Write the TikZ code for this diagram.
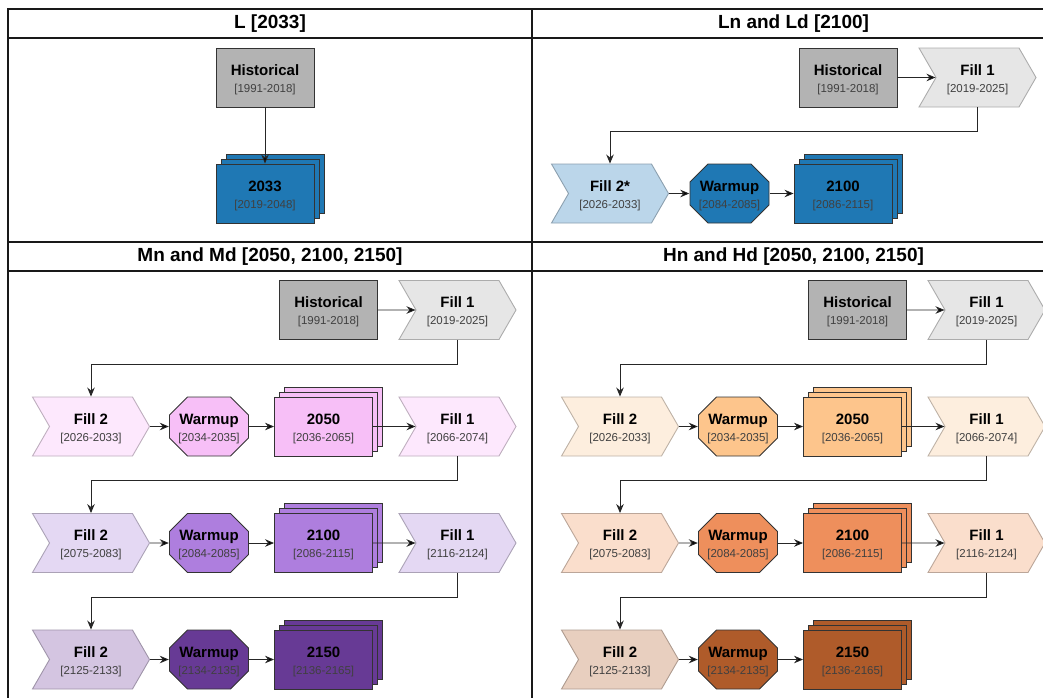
\documentclass[tikz,border=0pt]{standalone}
\usepackage{fontspec}
\setmainfont{Liberation Sans}
\usepackage{tikz}
\usetikzlibrary{arrows.meta,shapes.symbols,shadows}

\definecolor{histgray}{RGB}{179,179,179}
\definecolor{fillgray}{RGB}{230,230,230}
\definecolor{steelblue}{RGB}{31,120,180}
\definecolor{skyfill}{RGB}{187,214,234}
\definecolor{pinkfill}{RGB}{253,232,253}
\definecolor{pinkdark}{RGB}{247,191,247}
\definecolor{lilacfill}{RGB}{228,216,243}
\definecolor{lilacdark}{RGB}{174,126,222}
\definecolor{plumfill}{RGB}{212,197,225}
\definecolor{plumdark}{RGB}{103,58,149}
\definecolor{creamfill}{RGB}{253,238,222}
\definecolor{apricot}{RGB}{253,197,140}
\definecolor{peachfill}{RGB}{250,222,204}
\definecolor{coral}{RGB}{238,143,92}
\definecolor{sandfill}{RGB}{232,207,191}
\definecolor{rust}{RGB}{175,91,42}
\colorlet{subgray}{black!75}

\newcommand{\subsize}{\fontsize{11.5pt}{13pt}\selectfont}
\newcommand{\stg}[2]{\rule{0pt}{15pt}\textbf{#1}\\[1pt]{\subsize\color{subgray}[#2]}}

\begin{document}
\begin{tikzpicture}[x=1pt,y=-1pt,>={Stealth[length=9pt,width=7.5pt]},
                    hist/.style={rectangle,draw=black!80,line width=0.9pt,fill=histgray,
                                 minimum width=98pt,minimum height=59pt,inner sep=1pt,align=center},
                    chev/.style={signal,signal from=west,signal to=east,signal pointer angle=120,
                                 draw=#1!75!black,line width=0.9pt,fill=#1,
                                 minimum width=117pt,minimum height=59pt,inner sep=1pt,align=center},
                    warm/.style={rectangle,minimum width=80pt,minimum height=60pt,inner sep=0pt,align=center,
                                 path picture={\draw[draw=black!80,line width=0.9pt,fill=#1]
                                    ([shift={(18.5pt,-0.5pt)}]path picture bounding box.north west)
                                 -- ([shift={(-18.5pt,-0.5pt)}]path picture bounding box.north east)
                                 -- ([shift={(-0.5pt,-18.5pt)}]path picture bounding box.north east)
                                 -- ([shift={(-0.5pt,18.5pt)}]path picture bounding box.south east)
                                 -- ([shift={(-18.5pt,0.5pt)}]path picture bounding box.south east)
                                 -- ([shift={(18.5pt,0.5pt)}]path picture bounding box.south west)
                                 -- ([shift={(0.5pt,18.5pt)}]path picture bounding box.south west)
                                 -- ([shift={(0.5pt,-18.5pt)}]path picture bounding box.north west) -- cycle;}},
                    stack/.style={rectangle,draw=black!80,line width=0.9pt,fill=#1,
                                  minimum width=98pt,minimum height=59pt,inner sep=1pt,align=center,
                                  copy shadow={shadow xshift=10pt,shadow yshift=10pt,fill=#1,draw=black!80,line width=0.9pt},
                                  copy shadow={shadow xshift=5pt,shadow yshift=5pt,fill=#1,draw=black!80,line width=0.9pt}},
                    ttl/.style={font=\fontsize{19pt}{22pt}\selectfont\bfseries},
                    frame/.style={line width=1.8pt,draw=black!90},
                    link/.style={->,draw=black!85,line width=0.9pt}]
\tikzset{every node/.style={font=\fontsize{15pt}{16pt}\selectfont}}

  \path[use as bounding box] (0,0) rectangle (1043,697);
  \clip (0,0) rectangle (1043,697);

  % frame
  \draw[frame] (8,9) rectangle (1056,712);
  \draw[frame] (8,38) -- (1056,38);
  \draw[frame] (8,242) -- (1056,242);
  \draw[frame] (8,271) -- (1056,271);
  \draw[frame] (532,9) -- (532,712);

  \node[ttl] (t1) at (270,23.5)    {L [2033]};
  \node[ttl] (t2) at (793.5,23.5)  {Ln and Ld [2100]};
  \node[ttl] (t3) at (270,256.5)   {Mn and Md [2050, 2100, 2150]};
  \node[ttl] (t4) at (793.5,256.5) {Hn and Hd [2050, 2100, 2150]};

  % L
        \node[hist]                                  (h1)              at (265,77.5) {\stg{Historical}{1991-2018}};
        \node[stack=steelblue, node distance=116pt]  (s1)  [below of=h1]              {\stg{2033}{2019-2048}};

  % Ln and Ld
        \node[hist]                                  (h2)              at (848,77.5) {\stg{Historical}{1991-2018}};
        \node[chev=fillgray, node distance=129.5pt]  (f21) [right of=h2]              {\stg{Fill 1}{2019-2025}};
        \node[chev=skyfill]                          (f22)             at (610,193.5) {\stg{Fill 2*}{2026-2033}};
        \node[warm=steelblue, node distance=119.5pt] (w22) [right of=f22]             {\stg{Warmup}{2084-2085}};
        \node[stack=steelblue, node distance=113.5pt] (s22) [right of=w22]            {\stg{2100}{2086-2115}};

  % Mn and Md
        \node[hist]                                  (h3)              at (328.5,310) {\stg{Historical}{1991-2018}};
        \node[chev=fillgray, node distance=129pt]    (f31) [right of=h3]              {\stg{Fill 1}{2019-2025}};

        \node[chev=pinkfill]                         (f32)             at (91,426.5) {\stg{Fill 2}{2026-2033}};
        \node[warm=pinkdark, node distance=118pt]    (w32) [right of=f32]             {\stg{Warmup}{2034-2035}};
        \node[stack=pinkdark, node distance=114.5pt] (s32) [right of=w32]             {\stg{2050}{2036-2065}};
        \node[chev=pinkfill, node distance=134pt]    (g32) [right of=s32]             {\stg{Fill 1}{2066-2074}};

        \node[chev=lilacfill, node distance=116.5pt] (f33) [below of=f32]             {\stg{Fill 2}{2075-2083}};
        \node[warm=lilacdark, node distance=118pt]   (w33) [right of=f33]             {\stg{Warmup}{2084-2085}};
        \node[stack=lilacdark, node distance=114.5pt] (s33) [right of=w33]            {\stg{2100}{2086-2115}};
        \node[chev=lilacfill, node distance=134pt]   (g33) [right of=s33]             {\stg{Fill 1}{2116-2124}};

        \node[chev=plumfill, node distance=116.5pt]  (f34) [below of=f33]             {\stg{Fill 2}{2125-2133}};
        \node[warm=plumdark, node distance=118pt]    (w34) [right of=f34]             {\stg{Warmup}{2134-2135}};
        \node[stack=plumdark, node distance=114.5pt] (s34) [right of=w34]             {\stg{2150}{2136-2165}};

  % Hn and Hd
        \node[hist]                                  (h4)              at (857.5,310) {\stg{Historical}{1991-2018}};
        \node[chev=fillgray, node distance=129pt]    (f41) [right of=h4]              {\stg{Fill 1}{2019-2025}};

        \node[chev=creamfill]                        (f42)             at (620,426.5) {\stg{Fill 2}{2026-2033}};
        \node[warm=apricot, node distance=118pt]     (w42) [right of=f42]             {\stg{Warmup}{2034-2035}};
        \node[stack=apricot, node distance=114.5pt]  (s42) [right of=w42]             {\stg{2050}{2036-2065}};
        \node[chev=creamfill, node distance=134pt]   (g42) [right of=s42]             {\stg{Fill 1}{2066-2074}};

        \node[chev=peachfill, node distance=116.5pt] (f43) [below of=f42]             {\stg{Fill 2}{2075-2083}};
        \node[warm=coral, node distance=118pt]       (w43) [right of=f43]             {\stg{Warmup}{2084-2085}};
        \node[stack=coral, node distance=114.5pt]    (s43) [right of=w43]             {\stg{2100}{2086-2115}};
        \node[chev=peachfill, node distance=134pt]   (g43) [right of=s43]             {\stg{Fill 1}{2116-2124}};

        \node[chev=sandfill, node distance=116.5pt]  (f44) [below of=f43]             {\stg{Fill 2}{2125-2133}};
        \node[warm=rust, node distance=118pt]        (w44) [right of=f44]             {\stg{Warmup}{2134-2135}};
        \node[stack=rust, node distance=114.5pt]     (s44) [right of=w44]             {\stg{2150}{2136-2165}};

        \path[link]
        (h1)  edge (s1)
        (h2)  edge (f21)   (f22) edge (w22)   (w22) edge (s22)
        (h3)  edge (f31)
        (f32) edge (w32)   (w32) edge (s32)   (s32) edge (g32)
        (f33) edge (w33)   (w33) edge (s33)   (s33) edge (g33)
        (f34) edge (w34)   (w34) edge (s34)
        (h4)  edge (f41)
        (f42) edge (w42)   (w42) edge (s42)   (s42) edge (g42)
        (f43) edge (w43)   (w43) edge (s43)   (s43) edge (g43)
        (f44) edge (w44)   (w44) edge (s44)
        ; %end path

        \draw[link] (f21.south) -- ++(0,24) -| (f22.north);
        \draw[link] (f31.south) -- ++(0,24) -| (f32.north);
        \draw[link] (g32.south) -- ++(0,24) -| (f33.north);
        \draw[link] (g33.south) -- ++(0,24) -| (f34.north);
        \draw[link] (f41.south) -- ++(0,24) -| (f42.north);
        \draw[link] (g42.south) -- ++(0,24) -| (f43.north);
        \draw[link] (g43.south) -- ++(0,24) -| (f44.north);

\end{tikzpicture}
\end{document}
